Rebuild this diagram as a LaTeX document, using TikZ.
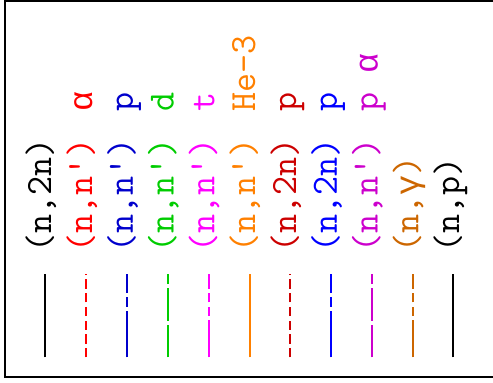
\documentclass[tikz,border=0pt]{standalone}
\usepackage{fontspec}
\newfontfamily\grk[Scale=0.9]{Liberation Mono}
\definecolor{cred}{RGB}{255,0,0}
\definecolor{cblue}{RGB}{0,0,204}
\definecolor{cgreen}{RGB}{0,204,0}
\definecolor{cmag}{RGB}{255,0,255}
\definecolor{corange}{RGB}{255,128,0}
\definecolor{cdred}{RGB}{204,0,0}
\definecolor{cbblue}{RGB}{0,0,255}
\definecolor{cpurple}{RGB}{204,0,204}
\definecolor{cdorange}{RGB}{204,102,0}
\tikzset{
    lbl/.style={rotate=90, anchor=base west, inner sep=0pt,
        font=\fontsize{37}{40}\selectfont\ttfamily},
    sample/.style={line width=2pt},
    dashA/.style={dash pattern=on 9.3pt off 4.4pt},
    dashB/.style={dash pattern=on 46.3pt off 4.3pt on 9.3pt off 4.3pt},
    dashC/.style={dash pattern=on 32.3pt off 4.3pt},
    dashD/.style={dash pattern=on 37pt off 4.3pt on 9.3pt off 4.3pt on 9.3pt off 4.3pt}
}
\begin{document}
\begin{tikzpicture}[x=1pt, y=1pt]
    \useasboundingbox (0,0) rectangle (493,383);

    % 1. Khung
    \draw[line width=2.5pt] (5,6) rectangle (500,382);

    % 2. Mau duong
    \draw[sample, black]            (45,25.7)  -- (45,108.7);
    \draw[sample, cred, dashA]      (86,25.7)  -- (86,108.7);
    \draw[sample, cblue, dashB]     (127,25.7) -- (127,108.7);
    \draw[sample, cgreen, dashC]    (168,25.7) -- (168,108.7);
    \draw[sample, cmag, dashD]      (209,25.7) -- (209,108.7);
    \draw[sample, corange]          (250,25.7) -- (250,108.7);
    \draw[sample, cdred, dashA]     (290,25.7) -- (290,108.7);
    \draw[sample, cbblue, dashB]    (331,25.7) -- (331,108.7);
    \draw[sample, cpurple, dashC]   (372,25.7) -- (372,108.7);
    \draw[sample, cdorange, dashD]  (413,25.7) -- (413,108.7);
    \draw[sample, black]            (453,25.7) -- (453,108.7);

    % 3. Phan ung
    \node[lbl, black]    (r1)  at (51.2,130.3)  {(n,2n)};
    \node[lbl, cred]     (r2)  at (92.0,130.3)  {(n,n')};
    \node[lbl, cblue]    (r3)  at (132.8,130.3) {(n,n')};
    \node[lbl, cgreen]   (r4)  at (173.6,130.3) {(n,n')};
    \node[lbl, cmag]     (r5)  at (214.4,130.3) {(n,n')};
    \node[lbl, corange]  (r6)  at (255.2,130.3) {(n,n')};
    \node[lbl, cdred]    (r7)  at (296.0,130.3) {(n,2n)};
    \node[lbl, cbblue]   (r8)  at (336.8,130.3) {(n,2n)};
    \node[lbl, cpurple]  (r9)  at (377.6,130.3) {(n,n')};
    \node[lbl, cdorange] (r10) at (418.4,130.3) {(n,{\grk γ})};
    \node[lbl, black]    (r11) at (459.2,130.3) {(n,p)};

    % 4. Hat phat ra
    \node[lbl, cred]     (p2)  at (92.0,271.5)  {{\grk α}};
    \node[lbl, cblue]    (p3)  at (132.8,271.5) {p};
    \node[lbl, cgreen]   (p4)  at (173.6,271.5) {d};
    \node[lbl, cmag]     (p5)  at (214.4,271.5) {t};
    \node[lbl, corange]  (p6)  at (255.2,271.5) {He-3};
    \node[lbl, cdred]    (p7)  at (296.0,271.5) {p};
    \node[lbl, cbblue]   (p8)  at (336.8,271.5) {p};
    \node[lbl, cpurple]  (p9)  at (377.6,271.5) {p {\grk α}};
\end{tikzpicture}
\end{document}
